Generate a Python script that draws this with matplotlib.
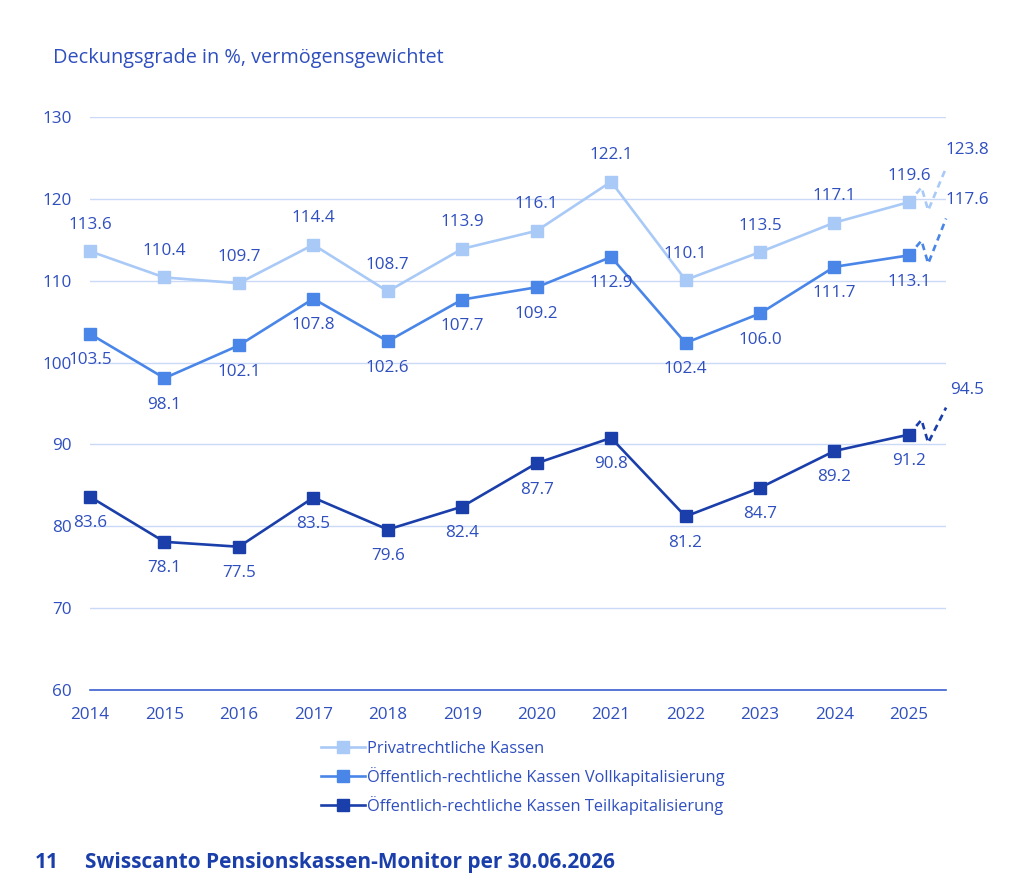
import matplotlib.pyplot as plt

# data
years = [2014, 2015, 2016, 2017, 2018, 2019, 2020, 2021, 2022, 2023, 2024, 2025]
privat = [113.6, 110.4, 109.7, 114.4, 108.7, 113.9, 116.1, 122.1, 110.1, 113.5, 117.1, 119.6]
voll = [103.5, 98.1, 102.1, 107.8, 102.6, 107.7, 109.2, 112.9, 102.4, 106.0, 111.7, 113.1]
teil = [83.6, 78.1, 77.5, 83.5, 79.6, 82.4, 87.7, 90.8, 81.2, 84.7, 89.2, 91.2]
proj_year = 2025.5
proj = [123.8, 117.6, 94.5]
names = ['Privatrechtliche Kassen',
         'Öffentlich-rechtliche Kassen Vollkapitalisierung',
         'Öffentlich-rechtliche Kassen Teilkapitalisierung']
colors = ['#a9c9f7', '#4a86e8', '#1b3faa']
label_side = [1, -1, -1]   # +1 label above, -1 below

txt = '#2f4fbf'
grid_c = '#c9d9f6'
fs = 12.3

plt.rcParams['font.family'] = ['Open Sans', 'DejaVu Sans']

fig = plt.figure(figsize=(10.24, 8.88), dpi=100)
ax = fig.add_axes([0.0879, 0.2230, 0.836, 0.6452])

series = [privat, voll, teil]
for vals, c, side, pv, name in zip(series, colors, label_side, proj, names):
    ax.plot(years, vals, color=c, lw=1.9, marker='s', ms=8.5, label=name,
            zorder=3, clip_on=False)
    for x, v in zip(years, vals):
        ax.annotate(f'{v:.1f}', (x, v), xytext=(0, 19 * side), textcoords='offset points',
                    ha='center', va='center', fontsize=fs, color=txt, zorder=4)
    # break zigzag + dashed projection
    last = vals[-1]
    zx = [years[-1], years[-1] + 0.17, years[-1] + 0.26, proj_year]
    zy = [last, last + 1.8, last - 1.0, pv]
    ax.plot(zx, zy, color=c, lw=1.9, ls=(0, (2.5, 1.8)), zorder=3, clip_on=False)
    ax.annotate(f'{pv:.1f}', (proj_year, pv), xytext=(15, 13), textcoords='offset points',
                ha='center', va='center', fontsize=fs, color=txt, annotation_clip=False)

ax.set_xlim(2014, proj_year)
ax.set_ylim(60, 130)
ax.set_yticks(range(60, 131, 10))
ax.set_xticks(years)
ax.grid(axis='y', color=grid_c, lw=1)
ax.set_axisbelow(True)
for s in ['top', 'right', 'left']:
    ax.spines[s].set_visible(False)
ax.spines['bottom'].set_color('#3a5fd0')
ax.spines['bottom'].set_linewidth(1.2)
ax.tick_params(length=0, labelsize=fs, labelcolor=txt)
ax.tick_params(axis='y', pad=13)
ax.tick_params(axis='x', pad=12)

leg = ax.legend(loc='upper left', bbox_to_anchor=(0.262, -0.078), frameon=False,
                fontsize=11.8, handlelength=2.7, handletextpad=0.1, labelspacing=0.6,
                borderaxespad=0)
for t in leg.get_texts():
    t.set_color(txt)

fig.text(0.052, 0.935, 'Deckungsgrade in %, vermögensgewichtet', fontsize=14.3,
         color=txt, va='center')
fig.text(0.034, 0.029, '11', fontsize=15, fontweight='bold', color='#1b3faa', va='center')
fig.text(0.083, 0.029, 'Swisscanto Pensionskassen-Monitor per 30.06.2026', fontsize=15,
         fontweight='bold', color='#1b3faa', va='center')

fig.savefig('out.png', dpi=100)
